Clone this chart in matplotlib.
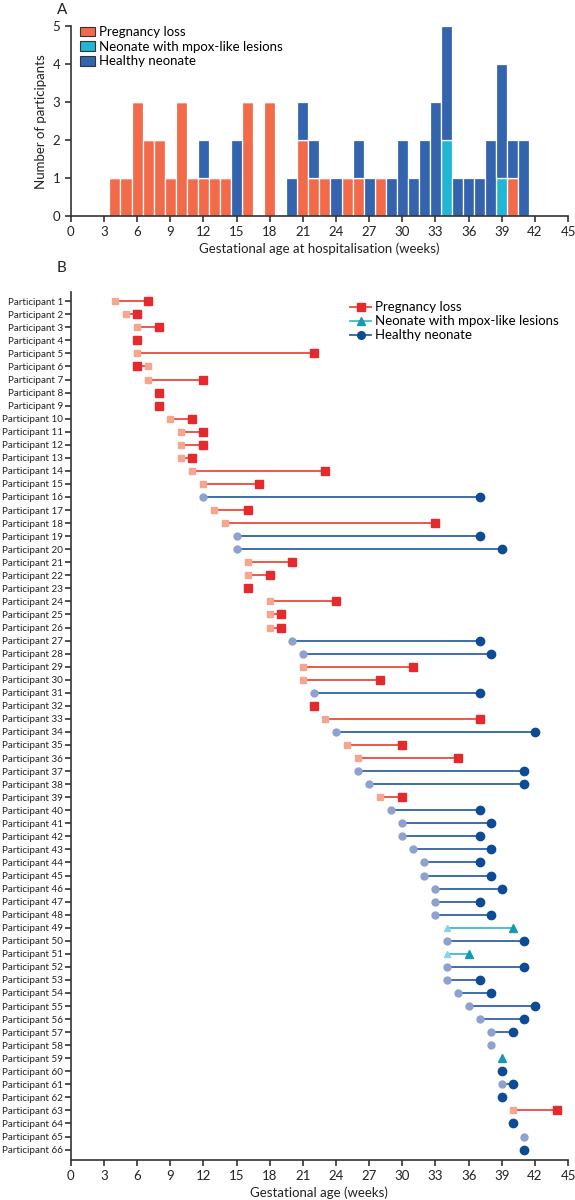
import numpy as np
import matplotlib
matplotlib.use("Agg")
import matplotlib.pyplot as plt
from matplotlib.lines import Line2D
from matplotlib.patches import Patch

plt.rcParams['font.family'] = ['Lato', 'DejaVu Sans']

# gestational age (weeks) at hospitalisation and at outcome, per participant
hosp_week = [4, 5, 6, 6, 6, 7, 7, 8, 8, 9, 10, 10, 10, 11, 12, 12, 13, 14, 15, 15,
             16, 16, 16, 18, 18, 18, 20, 21, 21, 21, 22, 22, 23, 24, 25, 26, 26, 27, 28, 29,
             30, 30, 31, 32, 32, 33, 33, 33, 34, 34, 34, 34, 34, 35, 36, 37, 38, 38, 39, 39,
             39, 39, 40, 40, 41, 41]
outcome_week = [7, 6, 8, 6, 22, 6, 12, 8, 8, 11, 12, 12, 11, 23, 17, 37, 16, 33, 37, 39,
                20, 18, 16, 24, 19, 19, 37, 38, 31, 28, 37, 22, 37, 42, 30, 35, 41, 41, 30, 37,
                38, 37, 38, 37, 38, 39, 37, 38, 40, 41, 36, 41, 37, 38, 42, 41, 40, None, 39, 39,
                40, 39, 44, 40, None, 41]
# L = pregnancy loss, M = neonate with mpox-like lesions, H = healthy neonate
outcome = list("LLLLLLLLLLLLLLLHLLHHLLLLLLHHLLHLLHLLHHLHHHHHHHHHMHMHHHHHHHMHHHLHHH")

participants = ["Participant %d" % (i + 1) for i in range(len(hosp_week))]
weeks = np.arange(0, 46)
xticks = np.arange(0, 46, 3)

names = {"L": "Pregnancy loss", "M": "Neonate with mpox-like lesions", "H": "Healthy neonate"}
bar_col = {"L": "#f26a49", "M": "#20b6d4", "H": "#3564ae"}
dark_col = {"L": "#e42a2c", "M": "#1899b3", "H": "#0d4b95"}
light_col = {"L": "#f6a58e", "M": "#86d4e6", "H": "#8fa2cf"}
line_col = {"L": "#ec4a3c", "M": "#45b9d1", "H": "#2f62a6"}
marker = {"L": "s", "M": "^", "H": "o"}

axis_col = "#333333"
txt_col = "#222222"
fs = 9.5

fig = plt.figure(figsize=(5.75, 12), dpi=100)

# ---------- panel A ----------
axA = fig.add_axes([0.123, 0.82, 0.865, 0.158])
bottom = np.zeros(len(weeks))
hosp = np.array(hosp_week)
for k in ["L", "M", "H"]:
    sel = hosp[[o == k for o in outcome]]
    counts = np.bincount(sel, minlength=len(weeks))[:len(weeks)]
    axA.bar(weeks, counts, width=1.0, bottom=bottom, color=bar_col[k],
            edgecolor="white", linewidth=0.9)
    bottom += counts

axA.set_xlim(0, 45)
axA.set_ylim(0, 5)
axA.set_xticks(xticks)
axA.set_yticks(range(6))
axA.set_ylabel("Number of participants", fontsize=fs, color=txt_col, labelpad=4)
axA.set_xlabel("Gestational age at hospitalisation (weeks)", fontsize=fs, color=txt_col,
               labelpad=3)
handles = [Patch(facecolor=bar_col[k], edgecolor="#333333", linewidth=0.8, label=names[k])
           for k in ["L", "M", "H"]]
axA.legend(handles=handles, loc="upper left", bbox_to_anchor=(0.0, 1.05), frameon=False,
           fontsize=fs, handlelength=1.15, handleheight=0.75, handletextpad=0.3,
           labelspacing=0.2, borderaxespad=0.3)
fig.text(0.099, 0.992, "A", fontsize=11, color=txt_col, va="center", ha="left")

# ---------- panel B ----------
axB = fig.add_axes([0.123, 0.0333, 0.865, 0.7233])
ypos = np.arange(1, len(participants) + 1)
for y, s, e, k in zip(ypos, hosp_week, outcome_week, outcome):
    if e is not None and e != s:
        axB.plot([s, e], [y, y], color=line_col[k], lw=1.3, zorder=1)
    if e is None or e != s:
        axB.plot(s, y, marker=marker[k], color=light_col[k], ms=5, mec=light_col[k],
                 ls="none", zorder=2)
    if e is not None:
        axB.plot(e, y, marker=marker[k], color=dark_col[k], ms=6, mec=dark_col[k],
                 ls="none", zorder=3)

axB.set_xlim(0, 45)
axB.set_ylim(len(participants) + 0.8, 0.3)
axB.set_xticks(xticks)
axB.set_yticks(ypos)
axB.set_yticklabels(participants)
axB.set_xlabel("Gestational age (weeks)", fontsize=fs, color=txt_col, labelpad=3)
handlesB = [Line2D([], [], color=line_col[k], lw=1.3, marker=marker[k], ms=5.5,
                   mfc=dark_col[k], mec=dark_col[k], label=names[k]) for k in ["L", "M", "H"]]
axB.legend(handles=handlesB, loc="upper right", bbox_to_anchor=(1.0, 1.0), frameon=False,
           fontsize=fs, handlelength=1.6, handletextpad=0.3, labelspacing=0.15,
           borderaxespad=0.3)
fig.text(0.099, 0.777, "B", fontsize=11, color=txt_col, va="center", ha="left")

for ax in (axA, axB):
    for side in ("top", "right"):
        ax.spines[side].set_visible(False)
    for side in ("left", "bottom"):
        ax.spines[side].set_color(axis_col)
        ax.spines[side].set_linewidth(1.2)
    ax.tick_params(axis="both", colors=axis_col, width=1.2, length=4, labelcolor=txt_col)
    ax.tick_params(axis="x", labelsize=fs)
axA.tick_params(axis="y", labelsize=fs)
axB.tick_params(axis="y", labelsize=7.1, pad=1.5)

fig.savefig("out.png", dpi=100)
